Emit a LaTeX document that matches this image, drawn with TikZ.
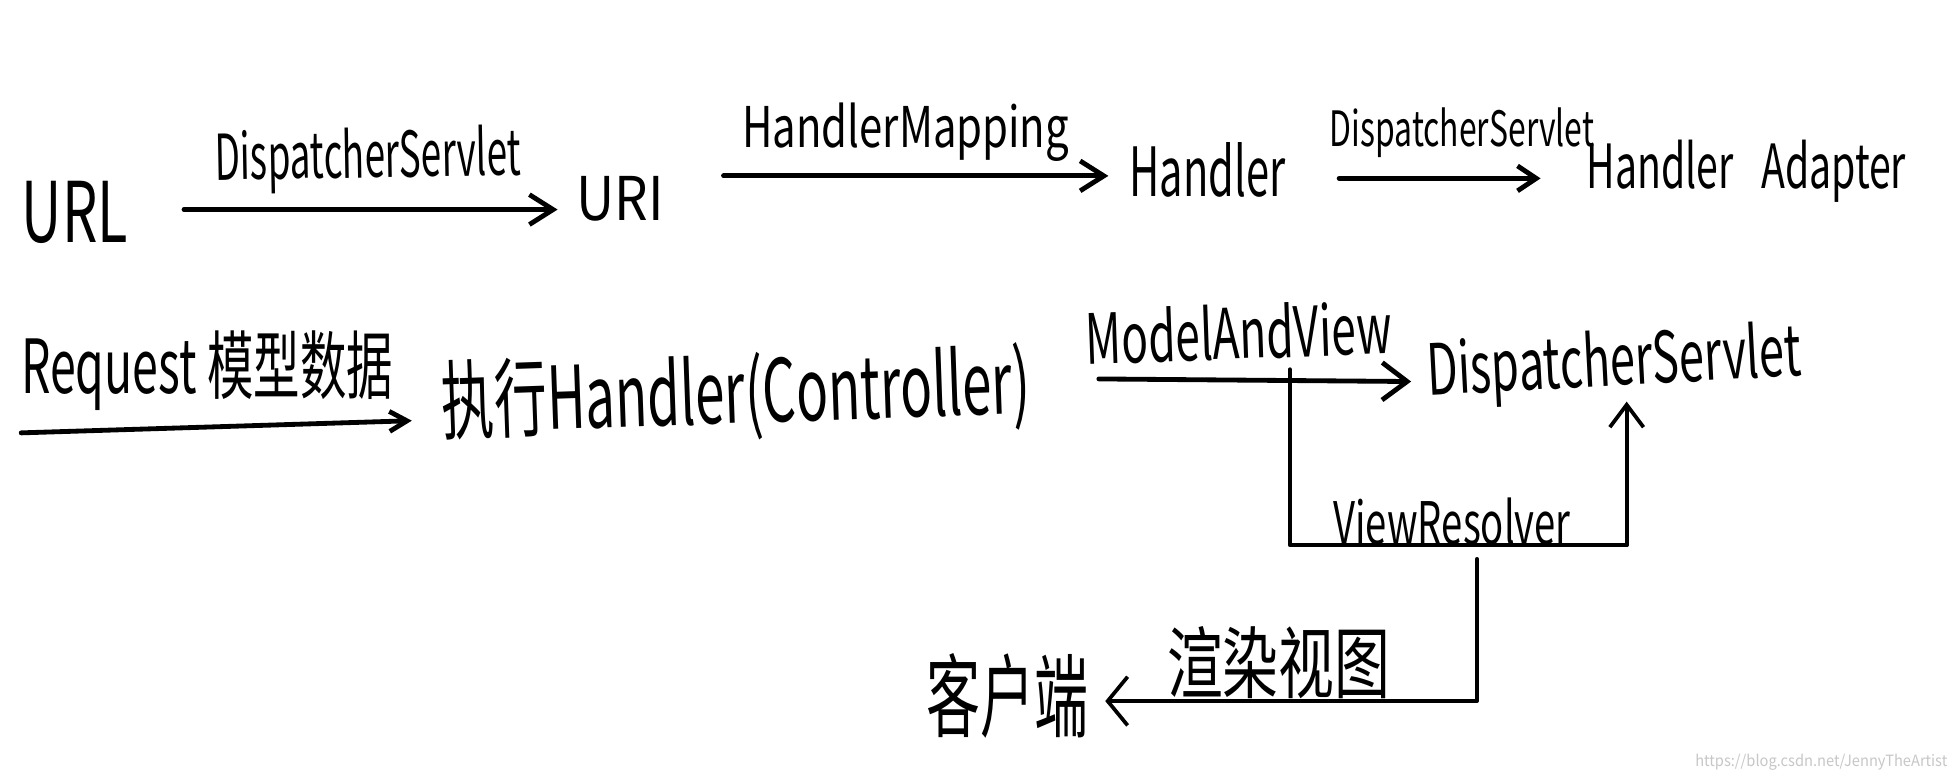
\documentclass[tikz,border=0pt]{standalone}
\usepackage{fontspec}
\setmainfont{Noto Sans CJK SC}
\usepackage{graphicx}
\usetikzlibrary{arrows.meta}
\newlength\hwu \setlength\hwu{0.02cm}
\newcommand\fitt[3]{\resizebox*{#1\hwu}{#2\hwu}{#3}}
\tikzset{
  lbl/.style={inner sep=0pt, outer sep=0pt, text=black},
  ln/.style={line width=2.2pt, line cap=round, line join=round},
  wire/.style={line width=1.7pt, line cap=round, line join=round},
  tipA/.style={-{Straight Barb[length=0.38cm,width=0.48cm]}},
  tipB/.style={-{Straight Barb[length=0.30cm,width=0.40cm]}},
  tipC/.style={-{Straight Barb[length=0.28cm,width=0.32cm]}},
  tipD/.style={-{Straight Barb[length=0.40cm,width=0.60cm]}},
  tipE/.style={-{Straight Barb[length=0.36cm,width=0.54cm]}},
  tipF/.style={-{Straight Barb[length=0.32cm,width=0.78cm]}},
}
\begin{document}
\begin{tikzpicture}[x=0.02cm, y=-0.02cm]
\useasboundingbox[fill=white] (0,0) rectangle (1568,624.4);

% row 1
\node[lbl] (url) at (60,170) {\fitt{85}{50}{URL}};
\node[lbl, rotate=1] (ds1) at (295,128) {\fitt{245}{52}{DispatcherServlet}};
\node[lbl] (uri) at (497,159) {\fitt{70}{36}{URI}};
\node[lbl] (hm) at (726,106) {\fitt{262}{47}{HandlerMapping}};
\node[lbl] (hd) at (968,136) {\fitt{125}{44}{Handler}};
\node[lbl] (ds2) at (1172,106) {\fitt{212}{40}{DispatcherServlet}};
\node[lbl] (ha) at (1400,137) {\fitt{256}{50}{Handler\hspace{0.7em}Adapter}};

% row 2
\node[lbl] (req) at (166,297) {\fitt{298}{64}{Request 模型数据}};
\node[lbl, rotate=2] (exe) at (590,317) {\fitt{472}{72}{执行Handler(Controller)}};
\node[lbl, rotate=2] (mav) at (993,266) {\fitt{245}{45}{ModelAndView}};
\node[lbl, rotate=3] (ds3) at (1294,293) {\fitt{300}{58}{DispatcherServlet}};
\node[lbl] (vr) at (1164,418) {\fitt{190}{38}{ViewResolver}};

% row 3
\node[lbl] (xr) at (1025,531) {\fitt{179}{58}{渲染视图}};
\node[lbl] (kh) at (808,558) {\fitt{130}{68}{客户端}};
\node[lbl, text=black!22] (wm) at (1460,611) {\fitt{202}{13}{https://blog.csdn.net/JennyTheArtist}};

% connectors row 1
\draw[ln, tipA] ([xshift=45\hwu, yshift=2\hwu]url.east) -- ([xshift=-15\hwu, yshift=2\hwu]url.east -| uri.west);
\draw[ln, tipA] ([xshift=48\hwu]uri.north east) -- ([xshift=-17\hwu]uri.north east -| hd.west);
\draw[ln, tipB] ([xshift=43\hwu, yshift=-7\hwu]hd.east) -- ([xshift=-37\hwu, yshift=-6\hwu]ha.west);

% connectors row 2
\draw[ln, tipC] ([yshift=-18\hwu]req.south west) -- ([xshift=-24\hwu, yshift=-12\hwu]exe.west);
\draw[ln, tipD] ([xshift=55\hwu, yshift=5\hwu]exe.east) -- ([xshift=-13\hwu, yshift=-5\hwu]ds3.west);

% ViewResolver loop
\coordinate (j1) at (1034,296);
\coordinate (j2) at (1304,437);
\draw[wire] (j1) |- (j2);
\draw[wire, tipE] (j2) -- (j2 |- ds3.south);

% render view to client
\coordinate (c3) at (1184,448);
\draw[wire, tipF] (c3) |- ([xshift=13\hwu, yshift=-4\hwu]kh.east);
\end{tikzpicture}
\end{document}
